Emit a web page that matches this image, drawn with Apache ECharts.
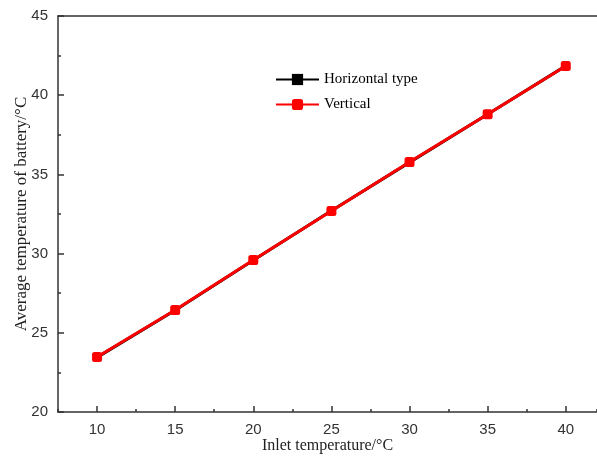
<!DOCTYPE html>
<html>
<head>
<meta charset="utf-8">
<script src="https://cdn.jsdelivr.net/npm/echarts@6/dist/echarts.min.js"></script>
<style>
  html, body { margin: 0; padding: 0; background: #fff; }
  #chart { width: 597px; height: 456px; }
</style>
</head>
<body>
<div id="chart"></div>
<script>
// 进口温度 / 电池平均温度
let inletTemp = [10, 15, 20, 25, 30, 35, 40];
let horizontalType = [23.45, 26.42, 29.58, 32.7, 35.76, 38.8, 41.85];
let vertical = [23.47, 26.44, 29.6, 32.69, 35.78, 38.8, 41.84];
let xTickLabels = [10, 15, 20, 25, 30, 35, 40];

function pairs(xs, ys) {
    return xs.map((x, i) => [x, ys[i]]);
}

let myChart = echarts.init(document.getElementById('chart'));

let axisColor = '#333';

let option = {
    animation: false,
    grid: {
        left: 58,
        top: 16,
        right: 0,
        bottom: 44,
        outerBoundsMode: 'none'
    },
    legend: {
        orient: 'vertical',
        left: 270,
        top: 67,
        itemWidth: 43,
        itemHeight: 14,
        itemGap: 10,
        textStyle: {
            fontFamily: 'Liberation Serif',
            fontSize: 15,
            color: '#000'
        },
        data: ['Horizontal type', 'Vertical']
    },
    xAxis: [
        {
            // 线 + 短刻度
            type: 'value',
            position: 'bottom',
            min: 7.5,
            max: 42,
            interval: 2.5,
            axisLine: { show: true, lineStyle: { color: axisColor, width: 1.5 } },
            axisTick: { show: true, inside: true, length: 3, lineStyle: { color: axisColor, width: 1.5 } },
            axisLabel: { show: false },
            splitLine: { show: false }
        },
        {
            // 主刻度 + 标签
            type: 'value',
            position: 'bottom',
            min: 7.5,
            max: 42,
            axisLine: { show: false },
            axisTick: {
                show: true, inside: true, length: 6,
                customValues: xTickLabels,
                lineStyle: { color: axisColor, width: 1.5 }
            },
            axisLabel: {
                customValues: xTickLabels,
                margin: 10,
                fontFamily: 'Liberation Sans',
                fontSize: 15,
                color: '#333'
            },
            splitLine: { show: false },
            name: 'Inlet temperature/°C',
            nameLocation: 'middle',
            nameMoveOverlap: false,
            nameGap: 26,
            nameTextStyle: {
                fontFamily: 'Liberation Serif',
                fontSize: 16,
                color: '#222'
            }
        },
        {
            type: 'value',
            position: 'top',
            min: 7.5,
            max: 42,
            axisLine: { show: true, lineStyle: { color: axisColor, width: 1.5 } },
            axisTick: { show: false },
            axisLabel: { show: false },
            splitLine: { show: false }
        }
    ],
    yAxis: {
        type: 'value',
        min: 20,
        max: 45,
        interval: 5,
        axisLine: { show: true, lineStyle: { color: axisColor, width: 1.5 } },
        axisTick: { show: true, inside: true, length: 6, lineStyle: { color: axisColor, width: 1.5 } },
        minorTick: { show: true, splitNumber: 2, length: 3, lineStyle: { color: axisColor, width: 1.5 } },
        axisLabel: {
            margin: 10,
            fontFamily: 'Liberation Sans',
            fontSize: 15,
            color: '#333'
        },
        splitLine: { show: false },
        name: 'Average temperature of battery/°C',
        nameLocation: 'middle',
        nameMoveOverlap: false,
        nameGap: 28,
        nameTextStyle: {
            fontFamily: 'Liberation Serif',
            fontSize: 17,
            color: '#222'
        }
    },
    series: [
        {
            name: 'Horizontal type',
            type: 'line',
            xAxisIndex: 0,
            data: pairs(inletTemp, horizontalType),
            symbol: 'rect',
            symbolSize: 8,
            lineStyle: { color: '#000', width: 3 },
            itemStyle: { color: '#000' }
        },
        {
            name: 'Vertical',
            type: 'line',
            xAxisIndex: 0,
            data: pairs(inletTemp, vertical),
            symbol: 'roundRect',
            symbolSize: 10,
            lineStyle: { color: '#ff0000', width: 3 },
            itemStyle: { color: '#ff0000' }
        }
    ]
};

myChart.setOption(option);
</script>
</body>
</html>
